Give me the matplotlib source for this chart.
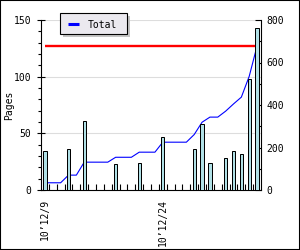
import matplotlib
matplotlib.use("Agg")
import matplotlib.pyplot as plt
from matplotlib.patches import Rectangle
from matplotlib.lines import Line2D
from matplotlib.ticker import MultipleLocator, FixedLocator, NullFormatter
import numpy as np

# ---- data (one value per day, 2010-12-09 .. 2011-01-05) ----
day_index = list(range(28))
pages_per_day = [34, 0, 0, 36, 0, 61, 0, 0, 0, 23, 0, 0, 24, 0, 0, 47,
                 0, 0, 0, 36, 58, 24, 0, 28, 34, 32, 98, 143]
label_days = [0, 15]
label_texts = ["10\u201912/9", "10\u201912/24"]
series_name = "Total"
left_label = "Pages"

pages = np.array(pages_per_day)
days = np.array(day_index)
total = np.cumsum(pages)

MONO = "DejaVu Sans Mono"
plt.rcParams["font.family"] = MONO
FS = 7

fig = plt.figure(figsize=(3, 2.5), dpi=100)
fig.patch.set_facecolor("white")
W, H = 300, 250
L, R, T, B = 41, 261, 20, 190
ax = fig.add_axes([L / W, 1 - B / H, (R - L) / W, (B - T) / H])
ax2 = ax.twinx()

ax.set_zorder(2)
ax.patch.set_visible(False)
ax2.set_zorder(1)

nz = pages > 0
ax.bar(days[nz], pages[nz], width=0.42, color="#b0e0e6", edgecolor="black",
       linewidth=0.72, zorder=3)
ax.set_xlim(-0.5, 27.5)
ax.set_ylim(0, 150)

ax2.plot(days, total, color="#0000ff", linewidth=0.8, zorder=2)
ax2.plot([days[0], days[-1]], [total[-1], total[-1]], color="#ff0000",
         linewidth=1.7, solid_capstyle="butt", zorder=1)
ax2.set_ylim(0, 800)

for v in (50, 100, 150):
    ax2.axhline(v * 800 / 150, color="#dddddd", linewidth=0.8, zorder=0)

for a in (ax, ax2):
    a.spines["top"].set_visible(False)
    for s in ("left", "right", "bottom"):
        a.spines[s].set_linewidth(0.8)
ax.spines["right"].set_visible(False)
ax2.spines["left"].set_visible(False)
ax2.spines["bottom"].set_visible(False)

ax.yaxis.set_major_locator(MultipleLocator(50))
ax.yaxis.set_minor_locator(MultipleLocator(10))
ax.tick_params(axis="y", which="major", direction="inout", length=6,
               width=0.8, labelsize=FS, pad=4)
ax.tick_params(axis="y", which="minor", direction="out", length=2.5,
               width=0.8)

ax2.yaxis.set_major_locator(MultipleLocator(200))
ax2.yaxis.set_minor_locator(MultipleLocator(100))
ax2.tick_params(axis="y", which="major", direction="in", length=4,
                width=0.8, labelsize=FS, pad=4)
ax2.tick_params(axis="y", which="minor", direction="in", length=2.5,
                width=0.8)

ax.xaxis.set_major_locator(FixedLocator(label_days))
ax.set_xticklabels(label_texts, rotation=90, fontsize=FS)
ax.xaxis.set_minor_locator(FixedLocator([d + 0.5 for d in day_index[:-1]]))
ax.xaxis.set_minor_formatter(NullFormatter())
ax.tick_params(axis="x", which="major", length=0, pad=6.5)
ax.tick_params(axis="x", which="minor", direction="in", length=4, width=0.8)
for lab in ax.get_xticklabels():
    lab.set_va("top")

ax.set_ylabel(left_label, fontsize=FS)
ax.yaxis.set_label_coords((14 - L) / (R - L), 0.5)

def fx(px):
    return px / W

def fy(py):
    return 1 - py / H

lx0, ly0, lx1, ly1 = 60, 13, 127, 34
fig.add_artist(Rectangle((fx(lx0 + 3), fy(ly1 + 3)), fx(lx1 - lx0), (ly1 - ly0) / H,
                         transform=fig.transFigure, facecolor="#c4c4c4",
                         edgecolor="none", zorder=10))
fig.add_artist(Rectangle((fx(lx0), fy(ly1)), fx(lx1 - lx0), (ly1 - ly0) / H,
                         transform=fig.transFigure, facecolor="#ebe9ef",
                         edgecolor="black", linewidth=0.8, zorder=11))
fig.add_artist(Line2D([fx(68), fx(79)], [fy(23.5), fy(23.5)],
                      transform=fig.transFigure, color="#0000ff",
                      linewidth=2.2, solid_capstyle="butt", zorder=12))
fig.text(fx(88), fy(23.5), series_name, fontsize=FS, va="center_baseline",
         ha="left", zorder=13)

# outer frame (half of a 2px line falls inside the canvas)
fig.add_artist(Rectangle((0, 0), 1, 1, transform=fig.transFigure, fill=False,
                         edgecolor="black", linewidth=1.5, zorder=20,
                         clip_on=False))

fig.savefig("out.png", dpi=100)
